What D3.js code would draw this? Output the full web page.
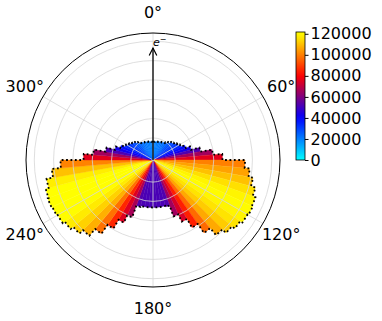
<!DOCTYPE html>
<html lang="en">
<head>
<meta charset="UTF-8">
<title>Polar histogram</title>
<style>
  body { margin: 0; background: #fff; }
  svg { display: block; font-family: "DejaVu Sans", sans-serif; }
  .grid { fill: none; stroke: #d6d6d6; stroke-width: 0.8; }
  .tlabel { font-size: 16px; fill: #000; }
  .cbar text { font-size: 16px; font-family: "DejaVu Sans", sans-serif; }
  .cbar path.domain { display: none; }
</style>
</head>
<body>
<script src="https://d3js.org/d3.v7.min.js"></script>
<script>
// counts per 5 degree angle bin, clockwise from the top (0 deg = electron direction)
const counts = [
  19900, 20000, 20300, 20700, 21200, 21700, 22400, 23400, 25500, 27700,
  29300, 31500, 33700, 38000, 42900, 52200, 65200, 75500, 100000, 105400,
  110300, 115200, 118500, 119600, 118500, 115800, 112000, 106500, 96700, 84800,
  73900, 65200, 52700, 51600, 51600, 51600,
  51600, 51600, 51600, 52700, 66300, 75000, 85900, 97800, 107600, 113000,
  116800, 119600, 120700, 121700, 120700, 117400, 110300, 100500, 75500, 65200,
  52200, 42900, 38000, 33700, 31500, 29300, 27700, 25500, 23400, 22400,
  21700, 21200, 20700, 20300, 20000, 19900
];
const thetaTicks = [0, 60, 120, 180, 240, 300];
const radialTicks = [24000, 45000, 66000, 87000, 108000, 129000];
const cbarTicks = [0, 20000, 40000, 60000, 80000, 100000, 120000];

const W = 382, H = 321;
const cx = 153, cy = 160, R = 127;

const svg = d3.select("body").append("svg")
  .attr("width", W).attr("height", H);

const color = d3.scaleLinear()
  .domain([0, 40000, 80000, 120000])
  .range(["#00ffff", "#0000ff", "#ff0000", "#ffff00"])
  .clamp(true);

const r = d3.scaleLinear().domain([0, 138000]).range([0, R]);

const n = counts.length;
const step = 2 * Math.PI / n;

const g = svg.append("g").attr("transform", `translate(${cx},${cy})`);

// bars
const arc = d3.arc()
  .innerRadius(0)
  .outerRadius(d => r(d.v))
  .startAngle(d => d.i * step)
  .endAngle(d => (d.i + 1) * step);

const bars = counts.map((v, i) => ({ v, i }));

g.selectAll("path.bar")
  .data(bars)
  .join("path")
  .attr("class", "bar")
  .attr("d", arc)
  .attr("fill", d => color(d.v))
  .attr("stroke", d => color(d.v))
  .attr("stroke-width", 0.4);

// grid
g.selectAll("circle.grid")
  .data(radialTicks)
  .join("circle")
  .attr("class", "grid")
  .attr("r", d => r(d));

g.selectAll("line.grid")
  .data(thetaTicks)
  .join("line")
  .attr("class", "grid")
  .attr("x1", 0).attr("y1", 0)
  .attr("x2", d => R * Math.sin(d * Math.PI / 180))
  .attr("y2", d => -R * Math.cos(d * Math.PI / 180));

// dotted outline along the bar tops
const p = d3.path();
bars.forEach((d, k) => {
  const a0 = d.i * step - Math.PI / 2, a1 = (d.i + 1) * step - Math.PI / 2;
  const rr = r(d.v);
  if (k === 0) p.moveTo(rr * Math.cos(a0), rr * Math.sin(a0));
  p.arc(0, 0, rr, a0, a1);
});
p.closePath();
g.append("path")
  .attr("d", p.toString())
  .attr("fill", "none")
  .attr("stroke", "#000")
  .attr("stroke-width", 1.8)
  .attr("stroke-dasharray", "1.8,2.6");

// outer spine
g.append("circle").attr("r", R)
  .attr("fill", "none").attr("stroke", "#000").attr("stroke-width", 1);

// angle labels
g.selectAll("text.tlabel")
  .data(thetaTicks)
  .join("text")
  .attr("class", "tlabel")
  .attr("x", d => 148 * Math.sin(d * Math.PI / 180))
  .attr("y", d => -148 * Math.cos(d * Math.PI / 180))
  .attr("text-anchor", "middle")
  .attr("dominant-baseline", "central")
  .text(d => d + "°");

// electron direction arrow
const tipR = 112;
g.append("line")
  .attr("x1", 0).attr("y1", 0).attr("x2", 0).attr("y2", -tipR)
  .attr("stroke", "#000").attr("stroke-width", 1.3);
g.append("path")
  .attr("d", `M-3.8,${-tipR + 7.5}L0,${-tipR}L3.8,${-tipR + 7.5}`)
  .attr("fill", "none").attr("stroke", "#000").attr("stroke-width", 1.2);
const lab = g.append("text")
  .attr("x", 0).attr("y", -tipR - 2)
  .attr("font-size", 11);
lab.append("tspan").attr("font-style", "italic").text("e");
lab.append("tspan").attr("dy", -4).attr("font-size", 8).text("−");

// colorbar
const cbX = 296, cbW = 9, cbTop = 32, cbBot = 160;
const cbScale = d3.scaleLinear().domain([0, d3.max(counts)]).range([cbBot, cbTop]);

const defs = svg.append("defs");
const grad = defs.append("linearGradient")
  .attr("id", "cbgrad")
  .attr("x1", 0).attr("y1", 1).attr("x2", 0).attr("y2", 0);
d3.range(0, 1.0001, 0.05).forEach(t => {
  grad.append("stop")
    .attr("offset", t)
    .attr("stop-color", color(t * d3.max(counts)));
});

svg.append("rect")
  .attr("x", cbX).attr("y", cbTop)
  .attr("width", cbW).attr("height", cbBot - cbTop)
  .attr("fill", "url(#cbgrad)")
  .attr("stroke", "#000").attr("stroke-width", 0.8);

svg.append("g")
  .attr("class", "cbar")
  .attr("transform", `translate(${cbX + cbW},0)`)
  .call(d3.axisRight(cbScale).tickValues(cbarTicks).tickSize(3.5).tickPadding(2)
    .tickFormat(d3.format("d")));
</script>
</body>
</html>
